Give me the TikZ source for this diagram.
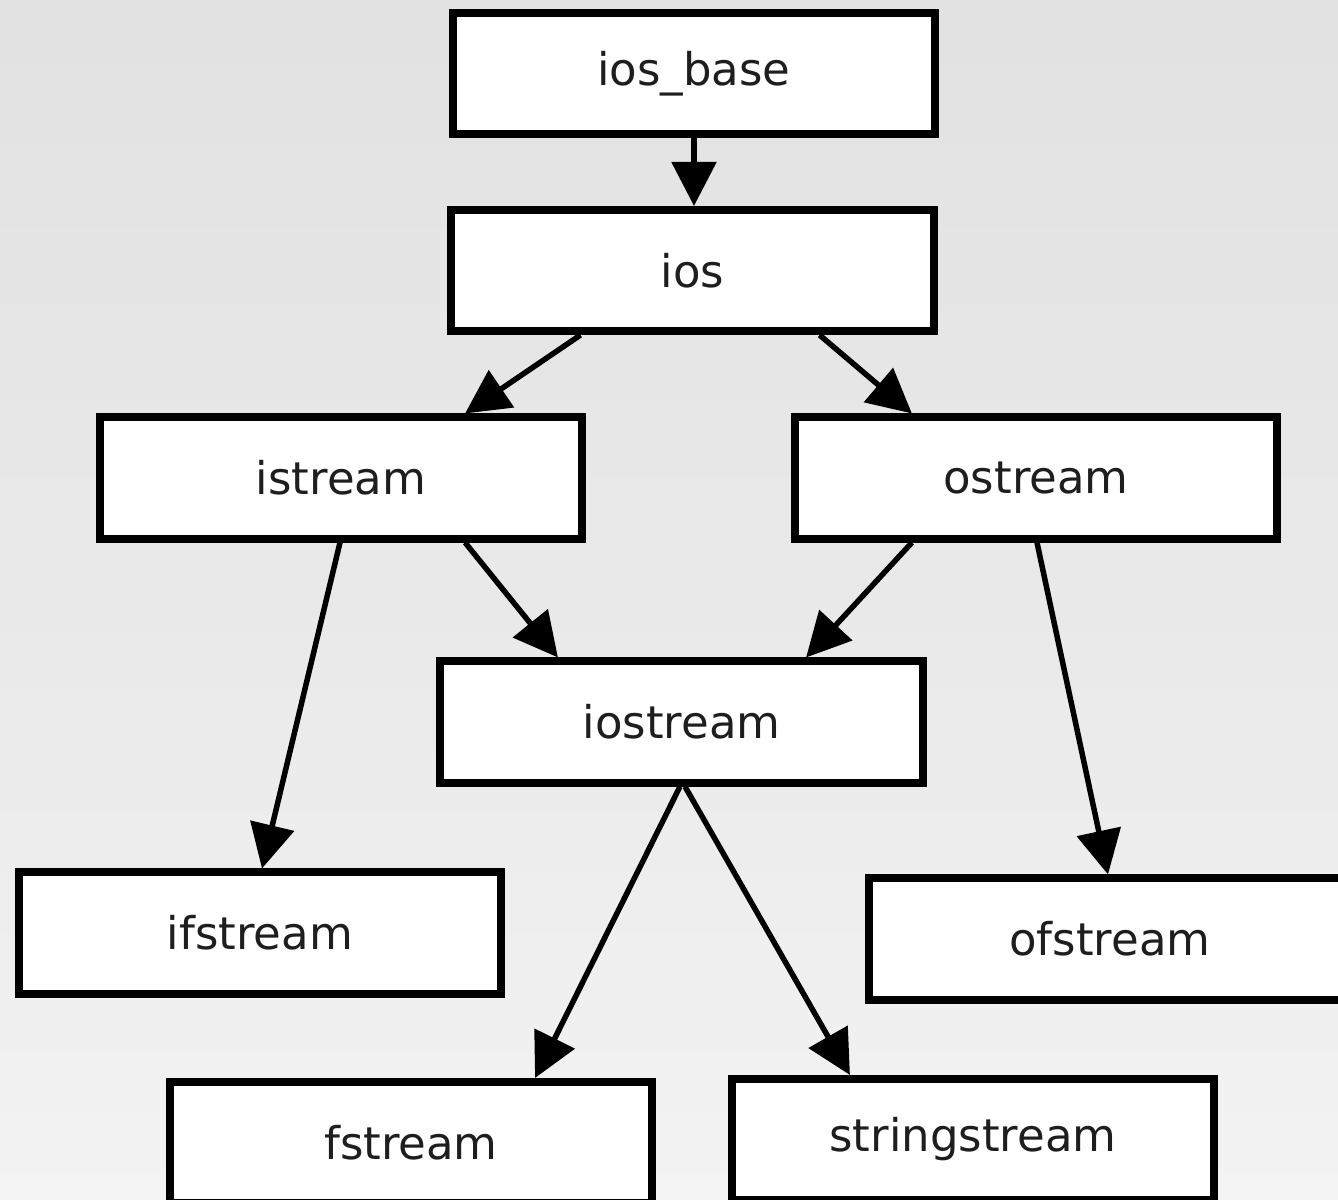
\documentclass[tikz,border=0pt]{standalone}
\usepackage{fontspec}
\setmainfont{DejaVu Sans}
\usetikzlibrary{arrows.meta}
\definecolor{bgA}{HTML}{ECECEC}
\definecolor{bgB}{HTML}{E0E0E0}
\definecolor{bgC}{HTML}{E9E9E9}
\definecolor{bgD}{HTML}{F3F3F3}
\definecolor{bgE}{HTML}{DEDEDE}
\definecolor{txt}{HTML}{1E1E1E}
\pgfdeclareverticalshading{bgshade}{100bp}{color(0bp)=(bgE); color(25bp)=(bgD); color(50bp)=(bgC); color(81bp)=(bgB); color(100bp)=(bgA)}
\tikzset{
  cls/.style={draw=black, fill=white, line width=0.08cm, minimum width=4.82cm, minimum height=1.21cm,
    inner sep=0pt, text=txt, font=\fontsize{12.8pt}{15pt}\selectfont},
  arr/.style={draw=black, line width=0.055cm, -{Triangle[length=0.44cm, width=0.44cm]}}
}
\begin{document}
\begin{tikzpicture}[x=0.01cm, y=-0.01cm]
\useasboundingbox (0,0) rectangle (1338,1200);
\clip (0,0) rectangle (1338,1200);
\shade[shading=bgshade] (0,0) rectangle (1338,1200);

\node[cls] (iosbase) at (694,73.5) {ios\_base};
\node[cls] (ios) at (692.5,270.5) {ios};
\node[cls] (istream) at (341,478) {istream};
\node[cls] (ostream) at (1036,478) {ostream};
\node[cls] (iostream) at (681.5,722) {iostream};
\node[cls] (ifstream) at (260,933) {ifstream};
\node[cls] (ofstream) at (1110,939) {ofstream};
\node[cls] (fstream) at (411,1142.5) {fstream};
\node[cls] (sstream) at (973,1139.5) {stringstream};

\draw[arr] (iosbase.south) -- (iosbase.south |- ios.north);
\draw[arr] ([xshift=-1.12cm]ios.south) -- ([xshift=1.24cm]istream.north);
\draw[arr] ([xshift=1.27cm]ios.south) -- ([xshift=-1.24cm]ostream.north);
\draw[arr] ([xshift=-0.01cm]istream.south) -- ([xshift=0.02cm]ifstream.north);
\draw[arr] ([xshift=1.24cm]istream.south) -- ([xshift=-1.235cm]iostream.north);
\draw[arr] ([xshift=-1.24cm]ostream.south) -- ([xshift=1.245cm]iostream.north);
\draw[arr] ([xshift=0.01cm]ostream.south) -- ([xshift=-0.02cm]ofstream.north);
\draw[arr] ([xshift=-0.015cm]iostream.south) -- ([xshift=1.24cm]fstream.north);
\draw[arr] ([xshift=0.035cm]iostream.south) -- ([xshift=-1.23cm]sstream.north);
\end{tikzpicture}
\end{document}
